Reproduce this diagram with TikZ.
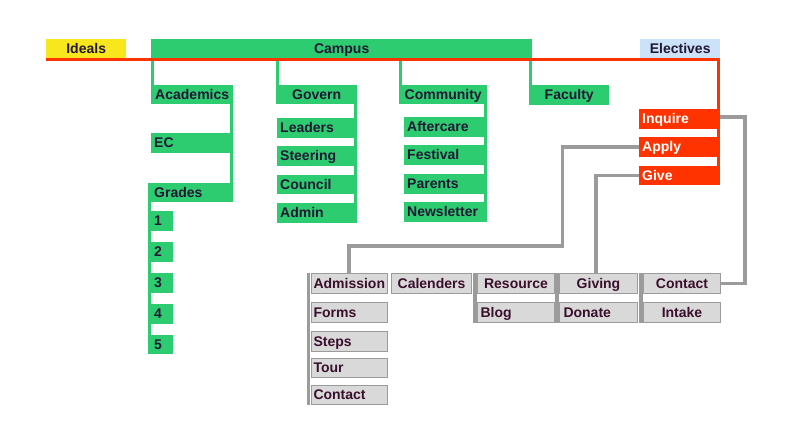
\documentclass[tikz,border=0pt]{standalone}
\usepackage{fontspec}
\setmainfont{Liberation Sans}
\definecolor{grn}{HTML}{2ECC71}
\definecolor{rd}{HTML}{FF3300}
\definecolor{yl}{HTML}{F8E71C}
\definecolor{skyb}{HTML}{CCE2F8}
\definecolor{gyf}{HTML}{D9D9D9}
\definecolor{gyl}{HTML}{9B9B9B}
\definecolor{dk}{HTML}{221833}
\definecolor{mr}{HTML}{3A0F2C}
\tikzset{
  base/.style={anchor=north west, inner ysep=0pt, text height=11pt, text depth=2pt,
    minimum height=20pt, font=\bfseries\fontsize{14}{15}\selectfont},
  cbox/.style={base, inner xsep=0pt, minimum width=#1},
  lbox/.style 2 args={base, inner xsep=#2, text width=#1, align=left},
  ghead/.style={cbox=#1, fill=grn, text=dk},
  gitem/.style={lbox={#1}{3pt}, fill=grn, text=dk},
  ritem/.style={lbox={#1}{3pt}, fill=rd, text=white},
  gyc/.style={cbox=#1, fill=gyf, draw=gyl, line width=1pt, text=mr},
  gyleft/.style 2 args={lbox={#1}{#2}, fill=gyf, draw=gyl, line width=1pt, text=mr},
  gline/.style={draw=grn, line width=3pt},
  rline/.style={draw=rd, line width=3pt},
  yline/.style={draw=gyl, line width=3.5pt},
}
\begin{document}
\begin{tikzpicture}[x=1pt,y=-1pt]
\useasboundingbox (0,0) rectangle (792,444);

% top bar
\node[cbox=80pt, minimum height=19pt, fill=yl, text=dk] (ideals) at (46,39) {Ideals};
\node[cbox=381pt, minimum height=19pt, fill=grn, text=dk] (campus) at (151,39) {Campus};
\node[cbox=80pt, minimum height=19pt, fill=skyb, text=dk] (electives) at (640,39) {Electives};

% green headers
\node[ghead=82pt, minimum height=19pt] (acad) at (151,85) {Academics};
\node[ghead=81pt, minimum height=19pt] (govern) at (276,85) {Govern};
\node[ghead=88pt, minimum height=19pt] (community) at (399,85) {Community};
\node[ghead=80pt] (faculty) at (529,85) {Faculty};

% academics column
\node[gitem=76pt] (ec) at (151,133) {EC};
\node[gitem=76pt, minimum height=19pt] (grades) at (151,183) {Grades};
\node[gitem=16pt] (g1) at (151,211) {1};
\node[gitem=16pt] (g2) at (151,242) {2};
\node[gitem=16pt] (g3) at (151,273) {3};
\node[gitem=16pt] (g4) at (151,304) {4};
\node[gitem=16pt, minimum height=19pt] (g5) at (151,335) {5};

% govern column
\node[gitem=71pt] (leaders) at (277,118) {Leaders};
\node[gitem=71pt] (steering) at (277,146) {Steering};
\node[gitem=71pt, minimum height=19pt] (council) at (277,175) {Council};
\node[gitem=71pt] (admin) at (277,203) {Admin};

% community column
\node[gitem=74pt] (aftercare) at (404,117) {Aftercare};
\node[gitem=74pt] (festival) at (404,145) {Festival};
\node[gitem=74pt] (parents) at (404,174) {Parents};
\node[gitem=74pt] (newsletter) at (404,202) {Newsletter};

% red column
\node[ritem=75pt] (inquire) at (639,109) {Inquire};
\node[ritem=75pt] (apply) at (639,137) {Apply};
\node[ritem=75pt, minimum height=19pt] (give) at (639,166) {Give};

% gray boxes
\node[gyleft={72pt}{2pt}] (admission) at (311,273) {Admission};
\node[gyleft={72pt}{2pt}] (forms) at (311,302) {Forms};
\node[gyleft={72pt}{2pt}] (steps) at (311,331) {Steps};
\node[gyleft={72pt}{2pt}, minimum height=19pt] (tour) at (311,358) {Tour};
\node[gyleft={72pt}{2pt}, minimum height=19pt] (contacta) at (311,385) {Contact};
\node[gyc=80pt] (calenders) at (391,273) {Calenders};
\node[gyc=77pt] (resource) at (477,273) {Resource};
\node[gyleft={71pt}{3pt}] (blog) at (477,302) {Blog};
\node[gyc=78pt] (giving) at (559,273) {Giving};
\node[gyleft={70pt}{4pt}] (donate) at (559,302) {Donate};
\node[gyc=77pt] (contactb) at (643,273) {Contact};
\node[gyc=77pt] (intake) at (643,302) {Intake};

% green connectors
\draw[gline] ([xshift=1.5pt]acad.north west) -- ([xshift=1.5pt]acad.north west |- campus.south);
\draw[gline] ([xshift=1.5pt]govern.north west) -- ([xshift=1.5pt]govern.north west |- campus.south);
\draw[gline] ([xshift=1.5pt]community.north west) -- ([xshift=1.5pt]community.north west |- campus.south);
\draw[gline] ([xshift=1.5pt]faculty.north west) -- ([xshift=1.5pt]faculty.north west |- campus.south);
\draw[gline] ([xshift=-1.5pt]acad.south east) -- ([xshift=-1.5pt]grades.north east);
\draw[gline] ([xshift=-1.5pt]grades.north west) -- ([xshift=-1.5pt]grades.north west |- g5.south);
\draw[gline] ([xshift=-1.5pt]govern.south east) -- ([xshift=-1.5pt]govern.south east |- admin.south);
\draw[gline] ([xshift=-1.5pt]community.south east) -- ([xshift=-1.5pt]community.south east |- newsletter.south);

% red line
\draw[rline] ([yshift=-1.5pt]ideals.south west) -- ([xshift=-1.5pt,yshift=-1.5pt]electives.south east) -- ([xshift=-1.5pt]give.south east);

% gray connectors
\coordinate (bendA) at (562.5,246);
\draw[yline] ([yshift=2pt]inquire.east) -| ([xshift=24pt]contactb.east) -- (contactb.east);
\draw[yline] (apply.west) -| (bendA) -| ([xshift=-0.5pt]admission.north);
\draw[yline] (give.west) -| ([xshift=-2.5pt]giving.north);
\draw[yline] ([xshift=-2.3pt]admission.north west) -- ([xshift=-2.3pt]admission.north west |- contacta.south);
\draw[yline] ([xshift=-2.2pt]resource.north west) -- ([xshift=-2.2pt]resource.north west |- blog.south);
\draw[yline] ([xshift=-2pt]giving.north west) -- ([xshift=-2pt]giving.north west |- donate.south);
\draw[yline] ([xshift=-2pt]contactb.north west) -- ([xshift=-2pt]contactb.north west |- intake.south);
\end{tikzpicture}
\end{document}
